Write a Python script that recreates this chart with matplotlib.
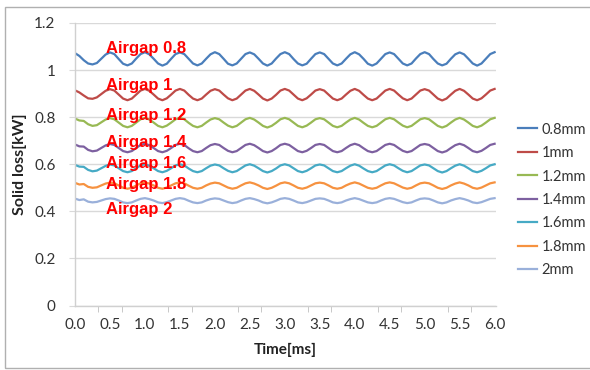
import numpy as np
import matplotlib
matplotlib.use("Agg")
import matplotlib.pyplot as plt
from matplotlib.patches import Rectangle
from matplotlib.ticker import MultipleLocator

# sampling grid (ms)
time_ms = np.linspace(0, 6, 97)

loss_08 = [1.072, 1.060, 1.042, 1.028, 1.024, 1.030, 1.048, 1.066,
           1.075, 1.068, 1.047, 1.027, 1.020, 1.028, 1.049, 1.068,
           1.076, 1.067, 1.048, 1.028, 1.019, 1.027, 1.048, 1.068,
           1.075, 1.068, 1.048, 1.028, 1.020, 1.028, 1.048, 1.067,
           1.076, 1.068, 1.048, 1.027, 1.020, 1.028, 1.048, 1.068,
           1.075, 1.067, 1.048, 1.028, 1.019, 1.028, 1.049, 1.068,
           1.076, 1.068, 1.047, 1.028, 1.020, 1.027, 1.048, 1.068,
           1.075, 1.068, 1.048, 1.028, 1.020, 1.028, 1.048, 1.067,
           1.076, 1.067, 1.048, 1.027, 1.019, 1.028, 1.048, 1.068,
           1.075, 1.068, 1.048, 1.028, 1.020, 1.028, 1.049, 1.068,
           1.076, 1.068, 1.047, 1.028, 1.020, 1.027, 1.048, 1.067,
           1.075, 1.067, 1.048, 1.028, 1.019, 1.028, 1.048, 1.068,
           1.076]
loss_10 = [0.914, 0.905, 0.892, 0.880, 0.878, 0.884, 0.898, 0.912,
           0.919, 0.913, 0.896, 0.879, 0.872, 0.879, 0.896, 0.913,
           0.920, 0.912, 0.896, 0.879, 0.872, 0.880, 0.896, 0.913,
           0.920, 0.913, 0.895, 0.879, 0.872, 0.879, 0.896, 0.912,
           0.919, 0.913, 0.896, 0.880, 0.872, 0.879, 0.896, 0.913,
           0.920, 0.912, 0.896, 0.879, 0.871, 0.879, 0.895, 0.913,
           0.920, 0.913, 0.896, 0.879, 0.872, 0.880, 0.896, 0.913,
           0.919, 0.913, 0.896, 0.879, 0.872, 0.879, 0.896, 0.912,
           0.920, 0.912, 0.895, 0.879, 0.872, 0.879, 0.896, 0.913,
           0.920, 0.913, 0.896, 0.880, 0.872, 0.879, 0.896, 0.913,
           0.919, 0.913, 0.896, 0.879, 0.871, 0.879, 0.896, 0.912,
           0.920, 0.912, 0.896, 0.879, 0.872, 0.880, 0.896, 0.913,
           0.920]
loss_12 = [0.794, 0.786, 0.784, 0.770, 0.763, 0.766, 0.778, 0.790,
           0.796, 0.791, 0.777, 0.763, 0.757, 0.763, 0.777, 0.791,
           0.797, 0.790, 0.777, 0.763, 0.757, 0.764, 0.777, 0.791,
           0.797, 0.791, 0.776, 0.763, 0.757, 0.763, 0.777, 0.790,
           0.796, 0.791, 0.777, 0.764, 0.757, 0.763, 0.777, 0.791,
           0.797, 0.790, 0.777, 0.763, 0.756, 0.763, 0.776, 0.791,
           0.797, 0.791, 0.777, 0.763, 0.757, 0.764, 0.777, 0.791,
           0.796, 0.791, 0.777, 0.763, 0.757, 0.763, 0.777, 0.790,
           0.797, 0.790, 0.776, 0.763, 0.757, 0.763, 0.777, 0.791,
           0.797, 0.791, 0.777, 0.764, 0.757, 0.763, 0.777, 0.791,
           0.796, 0.791, 0.777, 0.763, 0.756, 0.763, 0.777, 0.790,
           0.797, 0.790, 0.777, 0.763, 0.757, 0.764, 0.777, 0.791,
           0.797]
loss_14 = [0.684, 0.676, 0.675, 0.661, 0.655, 0.658, 0.669, 0.680,
           0.686, 0.682, 0.669, 0.656, 0.651, 0.656, 0.669, 0.682,
           0.687, 0.681, 0.669, 0.656, 0.651, 0.657, 0.669, 0.682,
           0.687, 0.682, 0.668, 0.656, 0.651, 0.656, 0.669, 0.681,
           0.686, 0.682, 0.669, 0.657, 0.651, 0.656, 0.669, 0.682,
           0.687, 0.681, 0.669, 0.656, 0.650, 0.656, 0.668, 0.682,
           0.687, 0.682, 0.669, 0.656, 0.651, 0.657, 0.669, 0.682,
           0.686, 0.682, 0.669, 0.656, 0.651, 0.656, 0.669, 0.681,
           0.687, 0.681, 0.668, 0.656, 0.651, 0.656, 0.669, 0.682,
           0.687, 0.682, 0.669, 0.657, 0.651, 0.656, 0.669, 0.682,
           0.686, 0.682, 0.669, 0.656, 0.650, 0.656, 0.669, 0.681,
           0.687, 0.681, 0.669, 0.656, 0.651, 0.657, 0.669, 0.682,
           0.687]
loss_16 = [0.597, 0.590, 0.589, 0.576, 0.570, 0.573, 0.583, 0.593,
           0.599, 0.595, 0.583, 0.571, 0.566, 0.571, 0.583, 0.595,
           0.600, 0.594, 0.583, 0.571, 0.566, 0.572, 0.583, 0.595,
           0.600, 0.595, 0.582, 0.571, 0.566, 0.571, 0.583, 0.594,
           0.599, 0.595, 0.583, 0.572, 0.566, 0.571, 0.583, 0.595,
           0.600, 0.594, 0.583, 0.571, 0.565, 0.571, 0.582, 0.595,
           0.600, 0.595, 0.583, 0.571, 0.566, 0.572, 0.583, 0.595,
           0.599, 0.595, 0.583, 0.571, 0.566, 0.571, 0.583, 0.594,
           0.600, 0.594, 0.582, 0.571, 0.566, 0.571, 0.583, 0.595,
           0.600, 0.595, 0.583, 0.572, 0.566, 0.571, 0.583, 0.595,
           0.599, 0.595, 0.583, 0.571, 0.565, 0.571, 0.583, 0.594,
           0.600, 0.594, 0.583, 0.571, 0.566, 0.572, 0.583, 0.595,
           0.600]
loss_18 = [0.521, 0.514, 0.516, 0.504, 0.500, 0.502, 0.510, 0.518,
           0.522, 0.519, 0.510, 0.500, 0.496, 0.500, 0.510, 0.519,
           0.523, 0.518, 0.510, 0.500, 0.496, 0.501, 0.510, 0.519,
           0.523, 0.519, 0.509, 0.500, 0.496, 0.500, 0.510, 0.518,
           0.522, 0.519, 0.510, 0.501, 0.496, 0.500, 0.510, 0.519,
           0.523, 0.518, 0.510, 0.500, 0.495, 0.500, 0.509, 0.519,
           0.523, 0.519, 0.510, 0.500, 0.496, 0.501, 0.510, 0.519,
           0.522, 0.519, 0.510, 0.500, 0.496, 0.500, 0.510, 0.518,
           0.523, 0.518, 0.509, 0.500, 0.496, 0.500, 0.510, 0.519,
           0.523, 0.519, 0.510, 0.501, 0.496, 0.500, 0.510, 0.519,
           0.522, 0.519, 0.510, 0.500, 0.495, 0.500, 0.510, 0.518,
           0.523, 0.518, 0.510, 0.500, 0.496, 0.501, 0.510, 0.519,
           0.523]
loss_20 = [0.454, 0.448, 0.451, 0.441, 0.438, 0.440, 0.446, 0.452,
           0.455, 0.453, 0.446, 0.438, 0.435, 0.438, 0.446, 0.453,
           0.456, 0.452, 0.446, 0.438, 0.435, 0.439, 0.446, 0.453,
           0.456, 0.453, 0.445, 0.438, 0.435, 0.438, 0.446, 0.452,
           0.455, 0.453, 0.446, 0.439, 0.435, 0.438, 0.446, 0.453,
           0.456, 0.452, 0.446, 0.438, 0.434, 0.438, 0.445, 0.453,
           0.456, 0.453, 0.446, 0.438, 0.435, 0.439, 0.446, 0.453,
           0.455, 0.453, 0.446, 0.438, 0.435, 0.438, 0.446, 0.452,
           0.456, 0.452, 0.445, 0.438, 0.435, 0.438, 0.446, 0.453,
           0.456, 0.453, 0.446, 0.439, 0.435, 0.438, 0.446, 0.453,
           0.455, 0.453, 0.446, 0.438, 0.434, 0.438, 0.446, 0.452,
           0.456, 0.452, 0.446, 0.438, 0.435, 0.439, 0.446, 0.453,
           0.456]

series = [loss_08, loss_10, loss_12, loss_14, loss_16, loss_18, loss_20]
legend_labels = ["0.8mm", "1mm", "1.2mm", "1.4mm", "1.6mm", "1.8mm", "2mm"]
colors = ["#4A7EBB", "#BE4B48", "#98B954", "#7D60A0", "#46AAC5", "#F69240", "#9AB0DA"]

annot_texts = ["Airgap 0.8", "Airgap 1", "Airgap 1.2", "Airgap 1.4",
               "Airgap 1.6", "Airgap 1.8", "Airgap 2"]
annot_y = [1.090, 0.933, 0.805, 0.693, 0.604, 0.516, 0.406]
annot_x = 0.45

x_ticks = [0.0, 0.5, 1.0, 1.5, 2.0, 2.5, 3.0, 3.5, 4.0, 4.5, 5.0, 5.5, 6.0]
y_ticks = [0, 0.2, 0.4, 0.6, 0.8, 1.0, 1.2]
y_tick_labels = ["0", "0.2", "0.4", "0.6", "0.8", "1", "1.2"]

plt.rcParams['font.family'] = ['Lato', 'DejaVu Sans']

fig = plt.figure(figsize=(5.9, 3.7), dpi=100)
ax = fig.add_axes([75/590, (370-305.5)/370, 421/590, 282.5/370])

for vals, lab, c in zip(series, legend_labels, colors):
    ax.plot(time_ms, vals, color=c, lw=1.6, label=lab, solid_joinstyle='round')

for txt, yy in zip(annot_texts, annot_y):
    ax.text(annot_x, yy, txt, color="#FF0000", fontsize=12, fontweight='bold',
            family=['Liberation Sans', 'DejaVu Sans'], ha='left', va='center', zorder=5)

ax.set_xlim(0, 6.02)
ax.set_ylim(0, 1.2)
ax.set_xticks(x_ticks)
ax.set_xticklabels([f"{v:.1f}" for v in x_ticks])
ax.xaxis.set_minor_locator(MultipleLocator(1/3))
ax.set_yticks(y_ticks)
ax.set_yticklabels(y_tick_labels)
ax.tick_params(axis='x', which='major', length=0, pad=9, labelsize=11, labelcolor='#333333')
ax.tick_params(axis='x', which='minor', length=4, color='#BFBFBF', direction='out')
ax.tick_params(axis='y', which='major', length=4, color='#D9D9D9', pad=10, labelsize=11, labelcolor='#333333')
ax.grid(axis='y', color='#D9D9D9', lw=1)
ax.set_axisbelow(True)
for s in ['top', 'right']:
    ax.spines[s].set_visible(False)
for s in ['left', 'bottom']:
    ax.spines[s].set_color('#D0D0D0')
    ax.spines[s].set_linewidth(1)

ax.set_xlabel("Time[ms]", fontsize=11, fontweight='bold', color='#222222', labelpad=8)
ax.set_ylabel("Solid loss[kW]", fontsize=11.5, fontweight='bold', color='#222222', labelpad=5)

leg = fig.legend(loc='center left', bbox_to_anchor=(518/590, 1 - 200/370), frameon=False,
                 fontsize=10.5, handlelength=1.3, handletextpad=0.3, labelspacing=0.65,
                 borderpad=0, borderaxespad=0)
for t in leg.get_texts():
    t.set_color('#333333')

fig.patches.append(Rectangle((5/590, 2/370), 1.0, 361/370, transform=fig.transFigure,
                             fill=False, edgecolor='#B0B0B0', lw=1))

fig.savefig("out.png", dpi=100)
